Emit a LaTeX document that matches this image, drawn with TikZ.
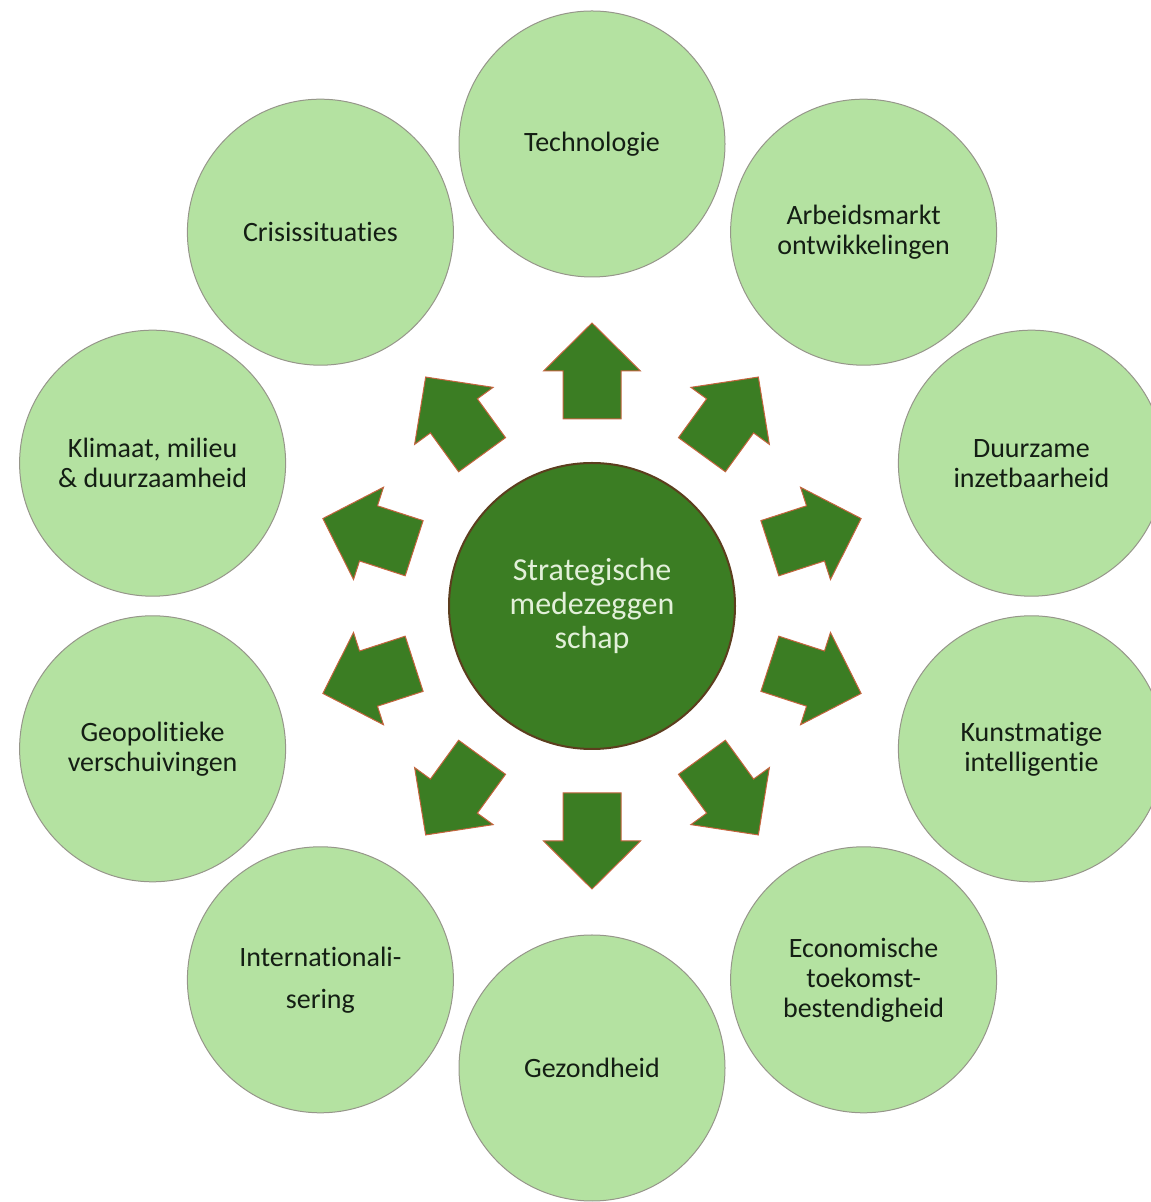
\documentclass[tikz,border=0pt]{standalone}
\usepackage{fontspec}
\setmainfont{Carlito}[Ligatures=NoCommon]

\definecolor{leaf}{RGB}{180,226,161}
\definecolor{leafline}{RGB}{150,150,138}
\definecolor{forest}{RGB}{59,125,35}
\definecolor{bark}{RGB}{92,62,30}
\definecolor{rust}{RGB}{196,100,62}
\definecolor{ink}{RGB}{20,30,20}
\definecolor{pale}{RGB}{226,240,217}

\begin{document}
\begin{tikzpicture}[x=1pt,y=1pt]
        \useasboundingbox (0,0) rectangle (1151,1202);

        \begin{scope}[every node/.style={circle, draw=leafline, line width=1pt, fill=leaf,
            minimum size=266pt, inner sep=0pt, align=center, text=ink,
            font=\fontsize{28}{30}\selectfont}]
          \node (1)  at (592,1058)      {Technologie};
          \node (2)  at (863.6,969.8)   {Arbeidsmarkt\\ontwikkelingen};
          \node (3)  at (1031.4,738.8)  {Duurzame\\inzetbaarheid};
          \node (4)  at (1031.4,453.2)  {Kunstmatige\\intelligentie};
          \node (5)  at (863.6,222.2)   {Economische\\toekomst-\\bestendigheid};
          \node (6)  at (592,134)       {Gezondheid};
          \node (7)  at (320.4,222.2)   {Internationali-\\[12pt]sering};
          \node (8)  at (152.6,453.2)   {Geopolitieke\\verschuivingen};
          \node (9)  at (152.6,738.8)   {Klimaat, milieu\\\& duurzaamheid};
          \node (10) at (320.4,969.8)   {Crisissituaties};
        \end{scope}

        \node[circle, draw=bark, line width=2pt, fill=forest, minimum size=286pt,
          inner sep=0pt, align=center, text=pale, font=\fontsize{32}{34}\selectfont]
          (0) at (592,596) {Strategische\\medezeggen\\schap};

        % arrows out of the centre
        \begin{scope}[shift={(592,596)}, every path/.style={fill=forest, draw=rust, line width=1pt}]
          \foreach \a in {0,36,...,324}
            \draw[rotate=\a] (-29,187) -- (29,187) -- (29,235) -- (48.5,235) -- (0,283)
              -- (-48.5,235) -- (-29,235) -- cycle;
        \end{scope}

      \end{tikzpicture}
\end{document}
